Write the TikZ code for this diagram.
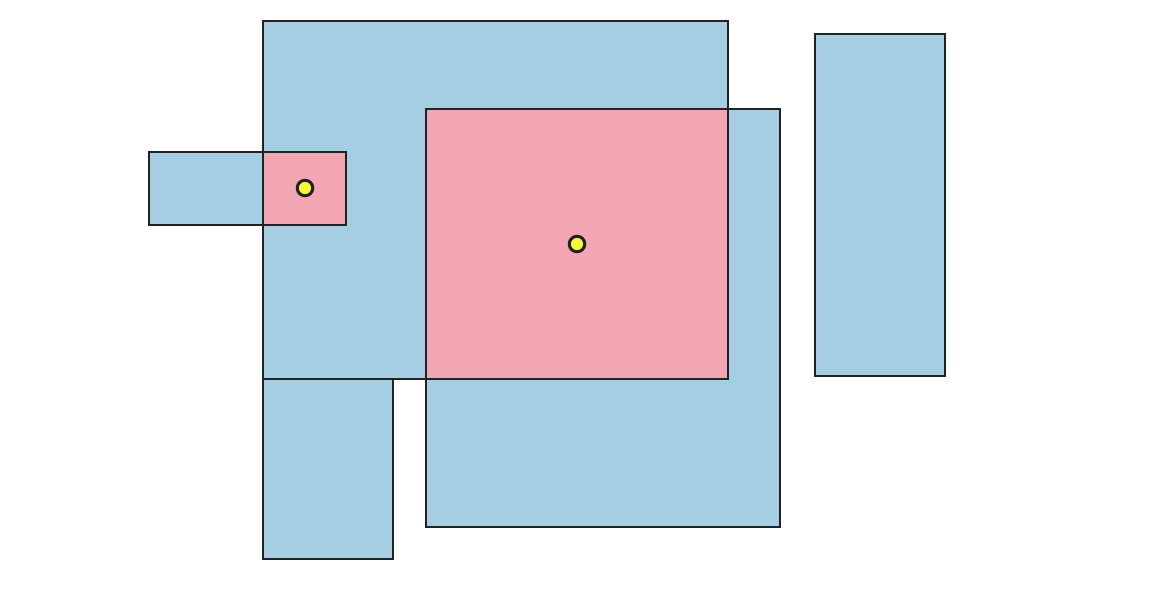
\documentclass[tikz,border=0pt]{standalone}
\usepackage{xcolor}
\usepackage{tikz}
\definecolor{regionblue}{HTML}{A6CEE3}
\definecolor{queryred}{HTML}{F2A6B2}
\definecolor{centeryellow}{HTML}{F7F73A}
\definecolor{edgegray}{HTML}{222222}

\begin{document}
\begin{tikzpicture}[x=0.02cm,y=-0.02cm,line width=1.05pt,
  box/.style={fill=regionblue,draw=edgegray},
  hit/.style={fill=queryred,draw=edgegray},
  center/.style={circle,fill=centeryellow,draw=edgegray,line width=1.7pt,inner sep=0pt,minimum size=0.31cm}]
  \useasboundingbox (0,0) rectangle (1159,589);

  \path[box] (263,21) rectangle (728,379);
  \path[box] (426,109) rectangle (780,527);
  \path[box] (263,379) rectangle (393,559);
  \path[box] (815,34) rectangle (945,376);
  \path[box] (149,152) rectangle (263,225);

  \path[hit] (426,109) rectangle (728,379);
  \path[hit] (263,152) rectangle (346,225);

  \node[center] (big) at (577,244) {};
  \node[center] (small) at (305,188) {};
\end{tikzpicture}
\end{document}
